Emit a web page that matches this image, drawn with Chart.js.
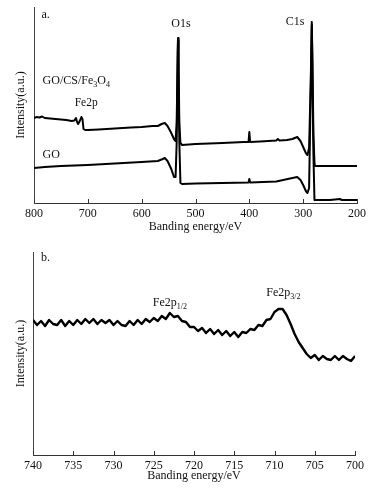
<!DOCTYPE html>
<html>
<head>
<meta charset="utf-8">
<script src="https://cdn.jsdelivr.net/npm/chart.js@4/dist/chart.umd.min.js"></script>
<style>
html,body{margin:0;padding:0;background:#fff;width:391px;height:491px;overflow:hidden;}
#wa{position:absolute;left:0;top:0;width:391px;height:238px;}
#wb{position:absolute;left:0;top:240px;width:391px;height:251px;}
</style>
</head>
<body>
<div id="wa"><canvas id="ca"></canvas></div>
<div id="wb"><canvas id="cb"></canvas></div>
<script>
// ---- Panel a: survey spectra ----
const energyUpperA = [800,795,790,785,780,770,760,750,740,730,725,722,720,718,715,712,710,708,705,700,680,650,620,600,580,570,563,557,552,545,540,537,535,533,532.5,531.5,530,528,525,500,450,410,401.5,400,398.5,380,350,347,344,330,320,311,305,300,295,292,289,286,284,283,281,279,278,250,200];
const intensityUpperA = [85,86,85.5,86.5,85,84.5,84,83.5,83,82,82.5,85,81,79,82,86,84,74,73,73,73.5,74.5,75.5,76,77,77,79,80,77,70,64,62,80,150,165,140,80,60,58,59,60,61,61,71,61,61.5,62.5,64,62.5,63,64,66,62,56,50,48,55,120,181,150,70,40,37,37,37];
const energyLowerA = [800,780,750,700,650,600,570,563,557,552,545,540,537,535,533,532.5,531.5,530,528,525,500,450,401.5,400,398.5,350,320,311,305,300,295,292,289,286,284,283,281,279,250,232,228,200];
const intensityLowerA = [35,36,37,38,39.5,41,42,43.5,45,42,34,26,26,60,150,163,130,60,20,19,19.5,20,20.5,24,20.5,21.5,25,26,23,18,12,10,15,110,178,140,50,3,3,4,3,3];
const ticksA = [800,700,600,500,400,300,200];

// ---- Panel b: Fe2p region ----
const energyB = [740,739.5,739,738.5,738,737.5,737,736.5,736,735.5,735,734.5,734,733.5,733,732.5,732,731.5,731,730.5,730,729.5,729,728.5,728,727.5,727,726.5,726,725.5,725,724.5,724,723.5,723,722.5,722,721.5,721,720.5,720,719.5,719,718.5,718,717.5,717,716.5,716,715.5,715,714.5,714,713.5,713,712.5,712,711.5,711,710.5,710,709.5,709,708.5,708,707.5,707,706.5,706,705.5,705,704.5,704,703.5,703,702.5,702,701.5,701,700.5,700];
const intensityB = [135,130,134,129,135,131,130,135,129,134,130,135,131,136,132,136,131,135,132,135,130,134,130,129,134,130,135,131,136,133,137,134,139,136,142,138,139,134,133,128,128,124,127,122,126,121,125,120,124,119,123,118,123,122,126,125,130,129,135,136,143,146,146,140,131,121,113,107,101,97,100,95,99,96,95,99,95,99,96,94,99];
const ticksB = [740,735,730,725,720,715,710,705,700];

const serif = "'Liberation Serif','DejaVu Serif',serif";
const ink = '#111';

function toXY(xs, ys){ return xs.map((x,i)=>({x:x, y:ys[i]})); }

const innerTicks = {
  id:'innerTicks',
  afterDraw(chart){
    const s = chart.scales.x, ctx = chart.ctx, b = chart.chartArea.bottom;
    ctx.save(); ctx.strokeStyle = '#333'; ctx.lineWidth = 1;
    s.ticks.forEach((t,i)=>{
      const px = Math.round(s.getPixelForTick(i)) + 0.5;
      ctx.beginPath(); ctx.moveTo(px,b); ctx.lineTo(px,b-4); ctx.stroke();
    });
    ctx.restore();
  }
};

// text labels anchored in data coordinates; parts: [text, 'n'|'sub']
const textLabels = {
  id:'textLabels',
  afterDraw(chart, args, opts){
    const ctx = chart.ctx, sx = chart.scales.x, sy = chart.scales.y;
    ctx.save(); ctx.fillStyle = ink; ctx.textBaseline = 'middle';
    (opts.items||[]).forEach(it=>{
      const base = it.size || 12;
      let x = sx.getPixelForValue(it.x), y = sy.getPixelForValue(it.y);
      let w = 0;
      it.parts.forEach(p=>{ ctx.font = (p[1]==='sub'?8:base)+'px '+serif; w += ctx.measureText(p[0]).width; });
      if (it.align === 'center') x -= w/2;
      it.parts.forEach(p=>{
        const sub = p[1]==='sub';
        ctx.font = (sub?8:base)+'px '+serif;
        ctx.fillText(p[0], x, sub ? y+4 : y);
        x += ctx.measureText(p[0]).width;
      });
    });
    ctx.restore();
  }
};

function makeOptions(xmin,xmax,ymax,tickList,padL,padR,padT,yW,xH,titlePadB,labels){
  return {
    responsive:true, maintainAspectRatio:false, animation:false,
    layout:{padding:{left:padL,right:padR,top:padT,bottom:0}},
    plugins:{legend:{display:false}, tooltip:{enabled:false}, textLabels:{items:labels}},
    elements:{point:{radius:0}, line:{tension:0, borderJoinStyle:'round'}},
    scales:{
      x:{type:'linear', reverse:true, min:xmin, max:xmax,
         afterBuildTicks(s){ s.ticks = tickList.map(v=>({value:v})); },
         afterFit(s){ s.height = xH; },
         grid:{display:true, drawOnChartArea:false, drawTicks:false},
         border:{display:true, color:'#333', width:1},
         ticks:{color:ink, font:{family:serif,size:12}, padding:4, maxRotation:0, autoSkip:false},
         title:{display:true, text:'Banding energy/eV', color:ink, font:{family:serif,size:12}, padding:{top:0,bottom:titlePadB}}},
      y:{type:'linear', min:0, max:ymax,
         afterFit(s){ s.width = yW; },
         grid:{display:false, drawTicks:false},
         border:{display:true, color:'#444', width:1},
         ticks:{display:false},
         title:{display:true, text:'Intensity(a.u.)', color:ink, font:{family:serif,size:12}, padding:{top:0,bottom:0}}}
    }
  };
}

new Chart(document.getElementById('ca'), {
  type:'line',
  data:{datasets:[
    {data:toXY(energyUpperA,intensityUpperA), borderColor:'#000', borderWidth:2, fill:false},
    {data:toXY(energyLowerA,intensityLowerA), borderColor:'#000', borderWidth:2, fill:false}
  ]},
  options:makeOptions(200,800,196,ticksA,14,34,7,20,35,4,[
    {x:786, y:188, parts:[['a.','n']]},
    {x:527, y:179, parts:[['O1s','n']], align:'center'},
    {x:315, y:181, parts:[['C1s','n']], align:'center'},
    {x:784, y:122, parts:[['GO/CS/Fe','n'],['3','sub'],['O','n'],['4','sub']]},
    {x:703, y:100, parts:[['Fe2p','n']], size:11.5, align:'center'},
    {x:784, y:48, parts:[['GO','n']]}
  ]),
  plugins:[innerTicks,textLabels]
});

new Chart(document.getElementById('cb'), {
  type:'line',
  data:{datasets:[
    {data:toXY(energyB,intensityB), borderColor:'#000', borderWidth:2.4, fill:false}
  ]},
  options:makeOptions(700,740,203,ticksB,14,36,12,19,36,8,[
    {x:739, y:197, parts:[['b.','n']]},
    {x:723, y:152, parts:[['Fe2p','n'],['1/2','sub']], align:'center'},
    {x:708.9, y:162, parts:[['Fe2p','n'],['3/2','sub']], align:'center'}
  ]),
  plugins:[innerTicks,textLabels]
});
</script>
</body>
</html>
